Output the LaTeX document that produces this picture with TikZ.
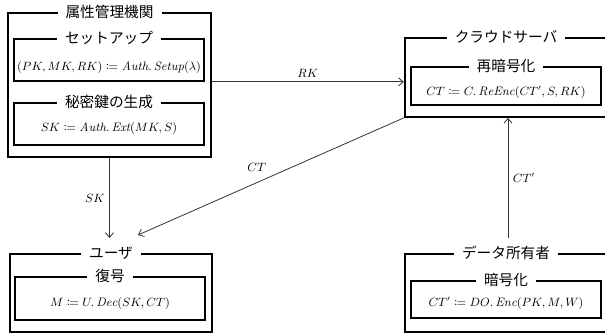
\documentclass[tikz,border=0pt]{standalone}
\usepackage{amsmath,mathtools}
\usepackage{fontspec}
\newfontfamily\jp{Noto Sans CJK JP}
\usetikzlibrary{arrows.meta,calc}

\begin{document}
\begin{tikzpicture}[x=0.75pt, y=-0.75pt, >={Straight Barb[length=3.5pt,width=6pt]},
  outerbox/.style={draw, line width=1.3pt, minimum width=152pt},
  innerbox/.style={draw, line width=1.3pt, minimum width=142.5pt},
  title/.style={fill=white, inner xsep=6pt, inner ysep=1pt, font=\jp\fontsize{11}{13}\selectfont},
  eq/.style={font=\fontsize{9.2}{11}\selectfont},
  flow/.style={->, draw=black!80, line width=0.6pt}]
\useasboundingbox (0,0) rectangle (605,335);
% boxes
\node[outerbox, minimum height=108pt] (auth) at (109.5,85) {};
\node[innerbox, minimum height=31.5pt] (setup) at (109,60) {};
\node[innerbox, minimum height=31.5pt] (keygen) at (109,124) {};
\node[outerbox, minimum height=59.25pt] (cloud) at (506,77.5) {};
\node[innerbox, minimum height=28.5pt] (reenc) at (506,86) {};
\node[outerbox, minimum height=58.5pt] (user) at (111,293) {};
\node[innerbox, minimum height=32.25pt] (dec) at (110,298.5) {};
\node[outerbox, minimum height=58.5pt] (owner) at (506,293) {};
\node[innerbox, minimum height=27.75pt] (enc) at (506,299.5) {};
% titles on the frames
\foreach \b/\t in {auth/属性管理機関, setup/セットアップ, keygen/秘密鍵の生成,
    cloud/クラウドサーバ, reenc/再暗号化, user/ユーザ, dec/復号,
    owner/データ所有者, enc/暗号化}
  {\node[title] (\b-t) at (\b.north) {\t};}
% algorithms
\node[eq] (setup-f) at (109,67) {$(PK,MK,RK) \coloneqq \mathit{Auth}.\,\mathit{Setup}(\lambda)$};
\node[eq] (keygen-f) at (109,128) {$SK \coloneqq \mathit{Auth}.\,\mathit{Ext}(MK,S)$};
\node[eq] (reenc-f) at (506,92) {$CT \coloneqq C.\,\mathit{ReEnc}(CT',S,RK)$};
\node[eq] (dec-f) at (110,303) {$M \coloneqq U.\,\mathit{Dec}(SK,CT)$};
\node[eq] (enc-f) at (506,303) {$CT' \coloneqq DO.\,\mathit{Enc}(PK,M,W)$};
% keys and ciphertexts
\coordinate (sk-end) at (108,238);
\coordinate (ct-end) at (138,235);
\coordinate (ctp-start) at (508,238);
\draw[flow] (auth.east |- setup.south) -- (cloud.west |- setup.south) node[eq,midway,above] {$RK$};
\draw[flow] (auth.south) -- (auth.south |- sk-end) node[eq,midway,left] {$SK$};
\draw[flow] (cloud.south west) -- (ct-end) node[eq,pos=0.5,above left=0pt] {$CT$};
\draw[flow] (ctp-start) -- (ctp-start |- cloud.south) node[eq,midway,right] {$CT'$};
\end{tikzpicture}
\end{document}
